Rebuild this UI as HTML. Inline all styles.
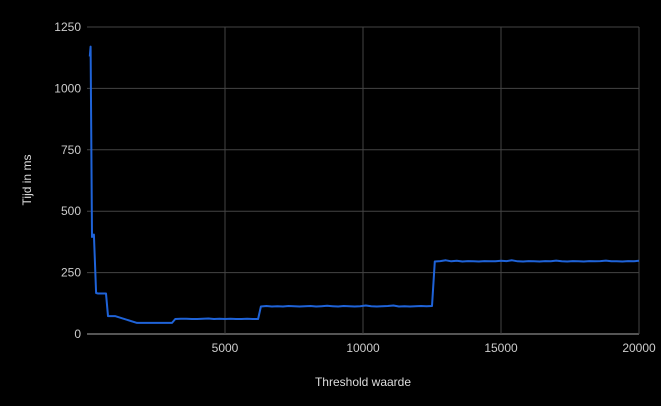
<!DOCTYPE html>
<html><head><meta charset="utf-8"><style>
html,body{margin:0;padding:0;background:#000;}
svg{display:block;font-family:"Liberation Sans",Arial,sans-serif;}
</style></head><body>
<svg id="chart" width="661" height="406">
<rect width="661" height="406" fill="#000"/>
<g id="grid"></g><g id="ticks"></g>
<text x="31" y="180" fill="#ddd" font-size="12" text-anchor="middle" transform="rotate(-90 31 180)">Tijd in ms</text>
<text x="363" y="386" fill="#ddd" font-size="12" text-anchor="middle">Threshold waarde</text>
<g id="series"></g>
</svg>
<script>
const xTicks=[5000,10000,15000,20000];
const yTicks=[0,250,500,750,1000,1250];
const xs=[100,130,180,250,330,400,690,760,1015,1810,3080,
3200,3400,3600,3800,4000,4200,4400,4600,4800,5000,5200,5400,5600,5800,6000,6200,
6300,6500,6700,6900,7100,7300,7500,7700,7900,8100,8300,8500,8700,8900,9100,9300,9500,9700,9900,10100,10300,10500,10700,10900,11100,11300,11500,11700,11900,12100,12300,12500,
12600,12800,13000,13200,13400,13600,13800,14000,14200,14400,14600,14800,15000,15200,15400,15600,15800,16000,16200,16400,16600,16800,17000,17200,17400,17600,17800,18000,18200,18400,18600,18800,19000,19200,19400,19600,19800,20000];
const ys=[1130,1170,395,405,167,165,165,73,73,45,45,
61,62,62,61,61,62,63,61,62,61,62,61,61,62,61,61,
112,114,112,113,112,114,113,112,113,114,112,113,115,113,112,114,113,112,113,116,113,112,113,114,116,112,113,112,113,114,113,114,
295,297,300,296,298,295,297,296,295,297,296,296,298,297,300,296,295,297,296,295,297,296,299,296,295,297,296,295,297,296,297,299,296,296,295,297,296,298];
const X0=87,X1=639,Y0=334,Y1=27;
const sx=v=>X0+(X1-X0)*v/20000, sy=v=>Y0-(Y0-Y1)*v/1250;
const NS="http://www.w3.org/2000/svg";
const grid=document.getElementById('grid'),ticks=document.getElementById('ticks'),ser=document.getElementById('series');
yTicks.forEach(t=>{
 const l=document.createElementNS(NS,'line');
 l.setAttribute('x1',X0);l.setAttribute('x2',X1);l.setAttribute('y1',sy(t));l.setAttribute('y2',sy(t));
 l.setAttribute('stroke',t===0?'#aaa':'#444');l.setAttribute('stroke-width','1');
 
 
 grid.appendChild(l);
 const tx=document.createElementNS(NS,'text');
 tx.setAttribute('x',X0-6);tx.setAttribute('y',sy(t)+4);tx.setAttribute('fill','#ccc');tx.setAttribute('font-size','12');tx.setAttribute('text-anchor','end');
 tx.textContent=t;
 
 
 ticks.appendChild(tx);
});
xTicks.forEach(t=>{
 const l=document.createElementNS(NS,'line');
 l.setAttribute('x1',sx(t));l.setAttribute('x2',sx(t));l.setAttribute('y1',Y1);l.setAttribute('y2',Y0);
 l.setAttribute('stroke','#444');l.setAttribute('stroke-width','1');
 
 
 grid.appendChild(l);
 const tx=document.createElementNS(NS,'text');
 tx.setAttribute('x',sx(t));tx.setAttribute('y',Y0+18);tx.setAttribute('fill','#ccc');tx.setAttribute('font-size','12');tx.setAttribute('text-anchor','middle');
 tx.textContent=t;
 
 
 ticks.appendChild(tx);
});
const p=document.createElementNS(NS,'polyline');
p.setAttribute('points',xs.map((x,i)=>sx(x).toFixed(1)+','+sy(ys[i]).toFixed(1)).join(' '));
p.setAttribute('fill','none');p.setAttribute('stroke','#1f63d8');p.setAttribute('stroke-width','2');p.setAttribute('stroke-linejoin','round');


ser.appendChild(p);
</script>
</body></html>
